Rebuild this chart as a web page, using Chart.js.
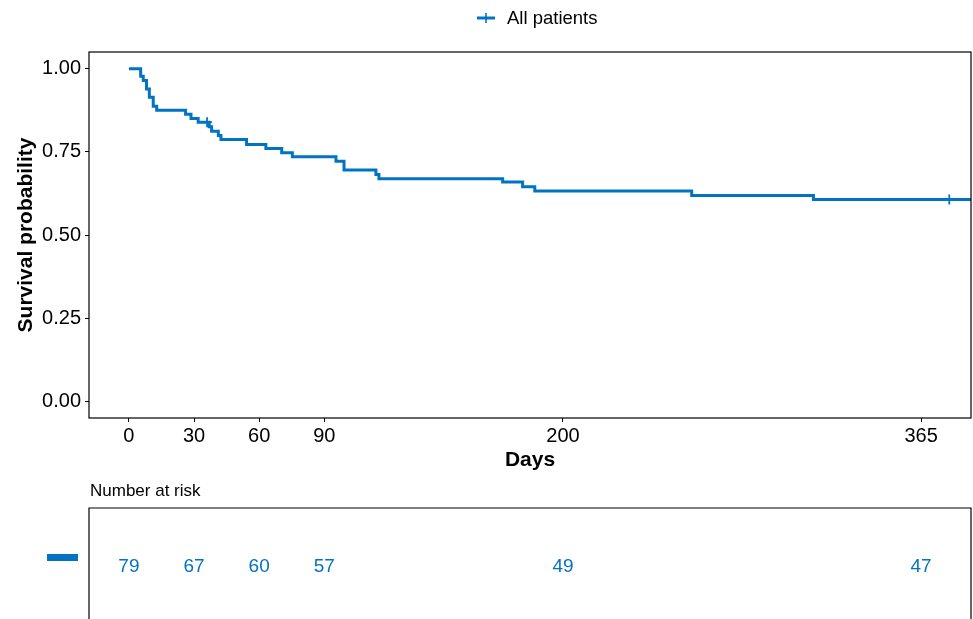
<!DOCTYPE html>
<html>
<head>
<meta charset="utf-8">
<script src="https://cdn.jsdelivr.net/npm/chart.js@4.4.1/dist/chart.umd.min.js"></script>
<style>
  html, body { margin: 0; padding: 0; background: #fff; }
  #wrap { width: 973px; height: 619px; }
</style>
</head>
<body>
<div id="wrap"><canvas id="km" width="973" height="619"></canvas></div>
<script>
// Kaplan-Meier curve
const seriesName = "All patients";
const days = [0, 5.4, 6.6, 8.1, 9.4, 11.2, 12.8, 26.1, 28.6, 31.9, 37.0, 38.1, 41.2, 42.4,
  54.2, 63.1, 70.4, 75.3, 95.4, 99.1, 113.8, 115.2, 172.2, 181.4, 187.0, 259.3, 315.4, 388];
const survival = [1.0, 0.977, 0.964, 0.939, 0.914, 0.887, 0.875, 0.863, 0.850, 0.839, 0.825, 0.812, 0.799, 0.787,
  0.772, 0.760, 0.747, 0.735, 0.722, 0.695, 0.682, 0.669, 0.659, 0.645, 0.632, 0.619, 0.607, 0.607];
const censorDays = [36, 378];
const censorSurvival = [0.839, 0.607];

const xTicks = [0, 30, 60, 90, 200, 365];
const yTicks = [0, 0.25, 0.5, 0.75, 1];

// risk table
const riskDays = [0, 30, 60, 90, 200, 365];
const atRisk = [79, 67, 60, 57, 49, 47];

const blue = "#0073C2";
const font = "'Liberation Sans', Arial, sans-serif";

const curve = days.map((d, i) => ({ x: d, y: survival[i] }));
const censored = censorDays.map((d, i) => ({ x: d, y: censorSurvival[i] }));

// frame, legend and number-at-risk table
const extras = {
  id: "extras",
  afterDraw(chart) {
    const ctx = chart.ctx;
    const area = chart.chartArea;
    const x = chart.scales.x;
    ctx.save();

    // panel border
    ctx.strokeStyle = "#000";
    ctx.lineWidth = 1.2;
    ctx.strokeRect(area.left, area.top, area.right - area.left, area.bottom - area.top);

    // legend
    const ly = 18;
    ctx.strokeStyle = blue;
    ctx.lineWidth = 3;
    ctx.beginPath();
    ctx.moveTo(477, ly); ctx.lineTo(495, ly);
    ctx.stroke();
    ctx.lineWidth = 1.6;
    ctx.beginPath();
    ctx.moveTo(486, ly - 5); ctx.lineTo(486, ly + 5);
    ctx.stroke();
    ctx.fillStyle = "#000";
    ctx.font = "18.5px " + font;
    ctx.textAlign = "left";
    ctx.textBaseline = "middle";
    ctx.fillText(seriesName, 507, ly + 1);

    // risk table
    const top = 508;
    ctx.font = "17px " + font;
    ctx.fillText("Number at risk", area.left + 1, 491);
    ctx.strokeStyle = "#000";
    ctx.lineWidth = 1.2;
    ctx.beginPath();
    ctx.moveTo(area.left, chart.height);
    ctx.lineTo(area.left, top);
    ctx.lineTo(area.right, top);
    ctx.lineTo(area.right, chart.height);
    ctx.stroke();

    ctx.fillStyle = blue;
    ctx.fillRect(47, 554, 31, 7);
    ctx.font = "19px " + font;
    ctx.textAlign = "center";
    riskDays.forEach((d, i) => {
      ctx.fillText(String(atRisk[i]), x.getPixelForValue(d), 567);
    });
    ctx.restore();
  }
};

new Chart(document.getElementById("km"), {
  type: "line",
  data: {
    datasets: [
      {
        label: seriesName,
        data: curve,
        borderColor: blue,
        borderWidth: 3,
        stepped: true,
        pointRadius: 0,
        fill: false
      },
      {
        label: "censored",
        type: "scatter",
        data: censored,
        pointStyle: "cross",
        pointRadius: 5,
        borderColor: blue,
        borderWidth: 1.8,
        backgroundColor: blue
      }
    ]
  },
  options: {
    responsive: false,
    animation: false,
    devicePixelRatio: 1,
    layout: { autoPadding: false, padding: { top: 52, right: 2, bottom: 143, left: 0 } },
    plugins: {
      legend: { display: false },
      tooltip: { enabled: false }
    },
    scales: {
      x: {
        type: "linear",
        min: -18.4,
        max: 388,
        afterBuildTicks: (s) => { s.ticks = xTicks.map(v => ({ value: v })); },
        afterFit: (s) => { s.height = 58; },
        grid: { drawOnChartArea: false, drawTicks: true, tickLength: 4, color: "#000" },
        border: { display: false },
        ticks: { color: "#000", padding: 2, maxRotation: 0, font: { family: font, size: 20 } },
        title: {
          display: true, text: "Days", color: "#000",
          font: { family: font, size: 21, weight: "bold" },
          padding: { top: 0, bottom: 3 }
        }
      },
      y: {
        min: -0.05,
        max: 1.05,
        afterBuildTicks: (s) => { s.ticks = yTicks.map(v => ({ value: v })); },
        afterFit: (s) => { s.width = 89; },
        grid: { drawOnChartArea: false, drawTicks: true, tickLength: 4, color: "#000" },
        border: { display: false },
        ticks: {
          color: "#000", padding: 4, font: { family: font, size: 20 },
          callback: (v) => v.toFixed(2)
        },
        title: {
          display: true, text: "Survival probability", color: "#000",
          font: { family: font, size: 21, weight: "bold" },
          padding: { top: 14, bottom: 0 }
        }
      }
    }
  },
  plugins: [extras]
});
</script>
</body>
</html>
